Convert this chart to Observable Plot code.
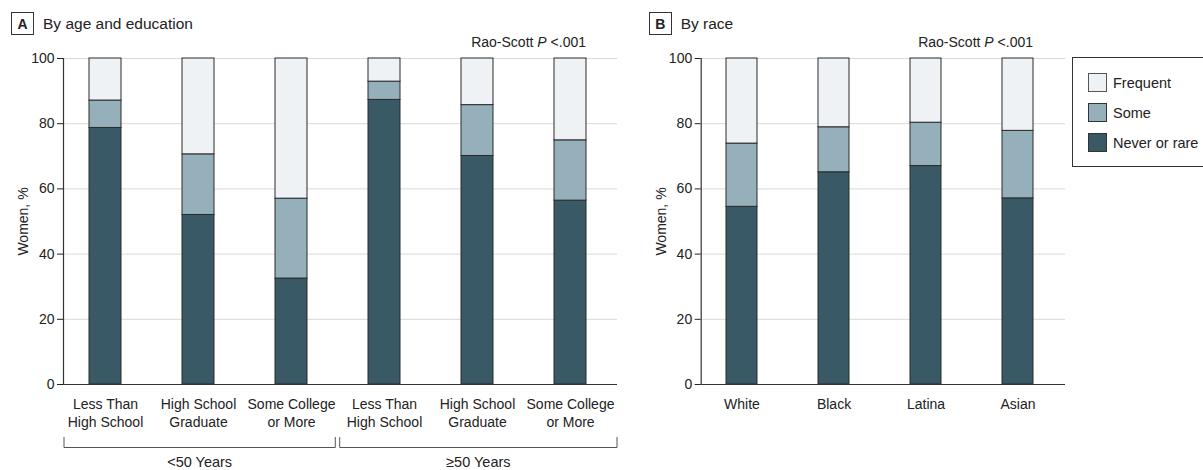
<!DOCTYPE html>
<html><head><meta charset="utf-8">
<script src="https://cdn.jsdelivr.net/npm/d3@7"></script>
<script src="https://cdn.jsdelivr.net/npm/@observablehq/plot@0.6"></script>
<style>
body{margin:0;background:#fff;}
#root{position:relative;width:1203px;height:470px;overflow:hidden;font-family:"Liberation Sans",sans-serif;color:#222;}
.panel{position:absolute;top:0;}
.title{position:absolute;top:12px;height:23px;display:flex;align-items:center;font-size:15.5px;white-space:nowrap;}
.badge{box-sizing:border-box;width:23px;height:23px;border:1px solid #333;font-weight:bold;display:flex;align-items:center;justify-content:center;font-size:14px;margin-right:9px;}
#legend{position:absolute;left:1072px;top:57px;width:140px;height:110px;box-sizing:border-box;border:1px solid #333;background:#fff;}
.li{position:absolute;left:15px;height:19px;display:flex;align-items:center;font-size:14.5px;}
.sw{box-sizing:border-box;width:19px;height:19px;border:1px solid #333;margin-right:6px;}
</style></head>
<body><div id="root"></div>
<script>
// ---- data ----
const statuses = ["Never or rare", "Some", "Frequent"];
const statusColors = ["#395966", "#95b0bb", "#eef2f5"];
const ageGroups = ["<50 Years", "≥50 Years"];
const education = ["Less Than\nHigh School", "High School\nGraduate", "Some College\nor More"];
// panel A, order: <50 (3 education levels), ≥50 (3 education levels)
const neverA = [78.7, 52.0, 32.5, 87.3, 70.1, 56.4];
const someA = [8.4, 18.6, 24.5, 5.6, 15.6, 18.5];
const frequentA = [12.9, 29.4, 43.0, 7.1, 14.3, 25.1];
// panel B
const races = ["White", "Black", "Latina", "Asian"];
const neverB = [54.5, 65.1, 67.0, 57.1];
const someB = [19.4, 13.8, 13.3, 20.7];
const frequentB = [26.1, 21.1, 19.7, 22.2];
const yTicks = [0, 20, 40, 60, 80, 100];
const pText = ["Rao-Scott ", "P", " <.001"];

const FONT = '"Liberation Sans",sans-serif';
const root = document.getElementById("root");

// build tables
const keysA = [], labelA = {}, rowsA = [];
ageGroups.forEach((g, gi) => education.forEach((e, ei) => {
  const k = g + "|" + e; const i = gi * 3 + ei;
  keysA.push(k); labelA[k] = e;
  rowsA.push({key: k, status: statuses[0], value: neverA[i]});
  rowsA.push({key: k, status: statuses[1], value: someA[i]});
  rowsA.push({key: k, status: statuses[2], value: frequentA[i]});
}));
const rowsB = [];
races.forEach((r, i) => {
  rowsB.push({key: r, status: statuses[0], value: neverB[i]});
  rowsB.push({key: r, status: statuses[1], value: someB[i]});
  rowsB.push({key: r, status: statuses[2], value: frequentB[i]});
});

function panel(keys, rows, fmt, width, marginLeft, marginRight) {
  return Plot.plot({
    width, height: 470, marginTop: 58, marginBottom: 86, marginLeft, marginRight,
    style: {fontFamily: FONT, fontSize: "14px", color: "#222", background: "transparent", overflow: "visible"},
    x: {domain: keys, paddingInner: 0.66, paddingOuter: 0.29, align: 0.45, label: null},
    y: {domain: [0, 100], label: "Women, %"},
    color: {domain: statuses, range: statusColors},
    marks: [
      Plot.gridY({ticks: yTicks.slice(1), stroke: "#d9d9d9", strokeOpacity: 1}),
      Plot.axisY({ticks: yTicks, tickSize: 6, tickPadding: 3, label: "Women, %", labelAnchor: "center", labelArrow: "none", labelOffset: 45}),
      Plot.axisX({tickSize: 0, tickPadding: 12, tickFormat: fmt, lineHeight: 1.28, label: null}),
      Plot.barY(rows, {x: "key", y: "value", fill: "status", stroke: "#2a2a2a", strokeWidth: 1}),
      Plot.ruleY([0], {stroke: "#333", strokeWidth: 1.2}),
      Plot.frame({anchor: "left", stroke: "#333", strokeWidth: 1.2})
    ]
  });
}

function addP(plot, lastKey) {
  const x = plot.scale("x");
  const xr = x.apply(lastKey) + x.bandwidth;
  const t = d3.select(plot).append("text")
    .attr("x", xr).attr("y", 47).attr("text-anchor", "end")
    .attr("font-family", FONT).attr("font-size", 14).attr("fill", "#222");
  pText.forEach((s, i) => t.append("tspan").attr("font-style", i === 1 ? "italic" : null).text(s));
}

function place(el, left) {
  const d = document.createElement("div"); d.className = "panel"; d.style.left = left + "px";
  d.appendChild(el); root.appendChild(d);
}

// Panel A
const plotA = panel(keysA, rowsA, k => labelA[k], 640, 63, 23);
addP(plotA, keysA[keysA.length - 1]);
{
  const x = plotA.scale("x"), bw = x.bandwidth;
  const svg = d3.select(plotA);
  const left = 64, right = 640 - 23;
  const mid = (x.apply(keysA[2]) + bw + x.apply(keysA[3])) / 2;
  const spans = [[left, mid - 2.2], [mid + 2.2, right]];
  spans.forEach(([a, b], i) => {
    svg.append("path").attr("d", `M${a},437V447.5H${b}V437`).attr("fill", "none").attr("stroke", "#555").attr("stroke-width", 1);
    svg.append("text").attr("x", (a + b) / 2).attr("y", 467).attr("text-anchor", "middle")
      .attr("font-family", FONT).attr("font-size", 14.5).attr("fill", "#222").text(ageGroups[i]);
  });
}
place(plotA, 0);

// Panel B
const plotB = panel(races, rowsB, d => d, 450, 63.7, 22);
addP(plotB, races[races.length - 1]);
place(plotB, 637);

// titles
[["A", "By age and education", 11], ["B", "By race", 648.7]].forEach(([b, t, l]) => {
  const d = document.createElement("div"); d.className = "title"; d.style.left = l + "px";
  d.innerHTML = `<div class="badge">${b}</div><span></span>`;
  d.querySelector("span").textContent = t;
  root.appendChild(d);
});

// legend
const lg = document.createElement("div"); lg.id = "legend";
[...statuses].reverse().forEach((s, i) => {
  const it = document.createElement("div"); it.className = "li"; it.style.top = (15 + i * 30) + "px";
  const sw = document.createElement("div"); sw.className = "sw";
  sw.style.background = statusColors[statuses.indexOf(s)];
  if (s === "Frequent") sw.style.borderColor = "#555";
  const tx = document.createElement("span"); tx.textContent = s;
  it.appendChild(sw); it.appendChild(tx); lg.appendChild(it);
});
root.appendChild(lg);
</script></body></html>
